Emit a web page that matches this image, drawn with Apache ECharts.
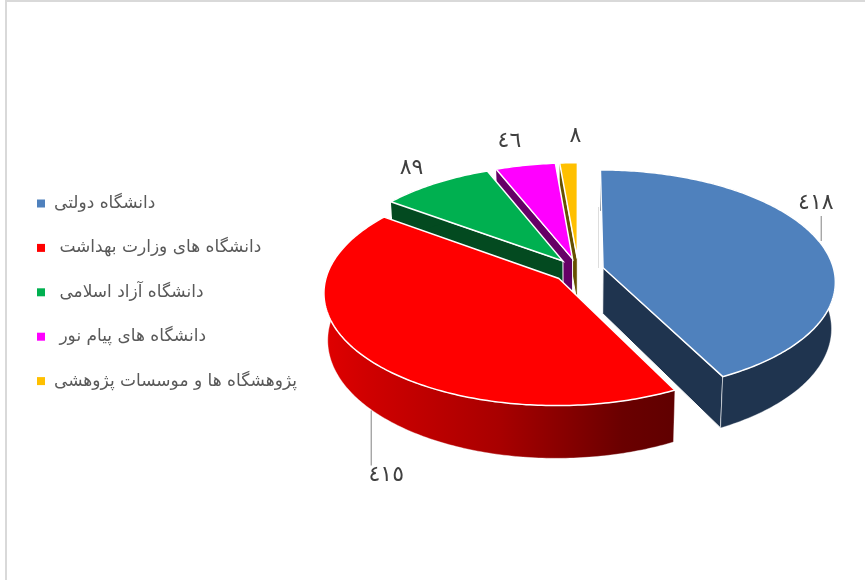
<!DOCTYPE html>
<html><head><meta charset="utf-8">
<style>html,body{margin:0;padding:0;background:#fff}#c{width:865px;height:580px}</style>
<script src="https://cdn.jsdelivr.net/npm/echarts@6/dist/echarts.min.js"></script>
</head><body><div id="c"></div>
<script>
var categories = ['دانشگاه دولتی','دانشگاه های وزارت بهداشت','دانشگاه آزاد اسلامی','دانشگاه های پیام نور','پژوهشگاه ها و موسسات پژوهشی'];
var values = [418,415,89,46,8];
var valueLabels = ['٤١٨','٤١٥','٨٩','٤٦','٨'];
var legendPad = ['','\u00a0','\u00a0','\u00a0',''];
var topColors = ['#4f81bd','#ff0000','#00b050','#ff00ff','#ffc000'];
var wallColors = ['#1f344f',null,'#034a20','#660066','#665000'];
var drawOrder = [4,3,2,0,1];
// label placement relative to the rim point at each slice's mid-angle
var labelDx = [-4.5,18,-24,-16,7], labelDy = [-40,68,-15,-24,-26];
var leaderDx = [1,3,0,0,0], leaderDy = [-27,58,0,0,0];
// small visual tuning of slice spans (degrees), as in a pie's minimum-angle rule
var spanTune = [-1.15,-0.1,-0.8,0,2.05];

var CX=578.4, CY=270.5, RX=231, RY=110, K=0.119, DEPTH=46, EXPLODE=0.11, LOW=0.985;
var total = values.reduce(function(a,b){return a+b;},0);
var spans = values.map(function(v,i){return (v/total*360+spanTune[i])*Math.PI/180;});
var starts=[], acc=0;
spans.forEach(function(v){starts.push(acc); acc+=v;});
function project(X,Y,low){
  var s=1/(1-K*Y);
  return [CX+RX*X*s*(low?LOW:1), CY+(RY*Y+(low?DEPTH:0))*s];
}
function pt(i,theta,r,low){
  var mid=starts[i]+spans[i]/2;
  var X=EXPLODE*Math.sin(mid)+r*Math.sin(theta);
  var Y=-(EXPLODE*Math.cos(mid)+r*Math.cos(theta));
  return project(X,Y,low);
}
function arc(i,a,b,low){
  var out=[],n=Math.max(4,Math.ceil((b-a)/0.015));
  for(var j=0;j<=n;j++) out.push(pt(i,a+(b-a)*j/n,1,low));
  return out;
}
function makeRender(i){
  return function(){
    var a=starts[i], b=a+spans[i], mid=(a+b)/2, kids=[];
    var topArc=arc(i,a,b,false), lowArc=arc(i,a,b,true);
    var wallFill = wallColors[i] || new echarts.graphic.LinearGradient(0,0,1,0,[
      {offset:0,color:'#e00000'},{offset:0.12,color:'#d00000'},{offset:0.5,color:'#a80000'},{offset:0.85,color:'#6a0000'},{offset:1,color:'#600000'}]);
    var wallLine={stroke:'#ffffff',lineWidth:1};
    // radial wall facing the viewer
    var edge = (i===0)? b : a;
    if(i!==1){
      kids.push({type:'polygon',shape:{points:[pt(i,edge,0,false),pt(i,edge,1,false),pt(i,edge,1,true),pt(i,edge,0,true)]},
        style:Object.assign({fill:wallFill},wallLine)});
    }
    // outer wall
    kids.push({type:'polygon',shape:{points:topArc.concat(lowArc.slice().reverse())},style:{fill:wallFill,stroke:(i<=1)?'rgba(255,255,255,0.6)':'rgba(255,255,255,0)',lineWidth:0.6}});
    // top face
    kids.push({type:'polygon',shape:{points:[pt(i,a,0,false)].concat(topArc)},style:{fill:topColors[i],stroke:'#ffffff',lineWidth:1.5,lineJoin:'miter'}});
    // leader + value label
    var rim=pt(i,mid,1,i===1);
    if(leaderDy[i]!==0){
      var off=i===0?-2:3;
      kids.push({type:'line',shape:{x1:rim[0]+leaderDx[i],y1:rim[1]+off,x2:rim[0]+leaderDx[i],y2:rim[1]+leaderDy[i]},style:{stroke:'#a6a6a6',lineWidth:1.4}});
    }
    kids.push({type:'text',style:{text:valueLabels[i],x:rim[0]+labelDx[i],y:rim[1]+labelDy[i],align:'center',verticalAlign:'middle',
      fill:'#404040',font:'22px "DejaVu Sans"'}});
    return {type:'group',children:kids};
  };
}
var series=categories.map(function(name,i){
  return {type:'custom',name:name,coordinateSystem:'none',z:2+drawOrder.indexOf(i),data:[[values[i]]],silent:true,
    itemStyle:{color:topColors[i]},renderItem:makeRender(i),animation:false};
});
var chart=echarts.init(document.getElementById('c'),null,{renderer:'canvas'});
chart.setOption({
  animation:false,backgroundColor:'#ffffff',
  legend:{orient:'vertical',left:32,top:190,itemWidth:8,itemHeight:8,itemGap:27.4,icon:'rect',data:categories,
    selectedMode:false,
    formatter:function(n){return legendPad[categories.indexOf(n)]+n;},
    textStyle:{fontFamily:'"DejaVu Sans"',fontSize:17,color:'#595959',padding:[8,0,0,4]}},
  graphic:[
    {type:'rect',silent:true,shape:{x:5,y:0,width:860,height:2},style:{fill:'#d9d9d9'}},
    {type:'rect',silent:true,shape:{x:5,y:0,width:2,height:580},style:{fill:'#d9d9d9'}},
    {type:'line',silent:true,z:1,shape:{x1:598.5,y1:207,x2:598.5,y2:268},style:{stroke:'#dddddd',lineWidth:1}}
  ],
  series:series
});
</script></body></html>
